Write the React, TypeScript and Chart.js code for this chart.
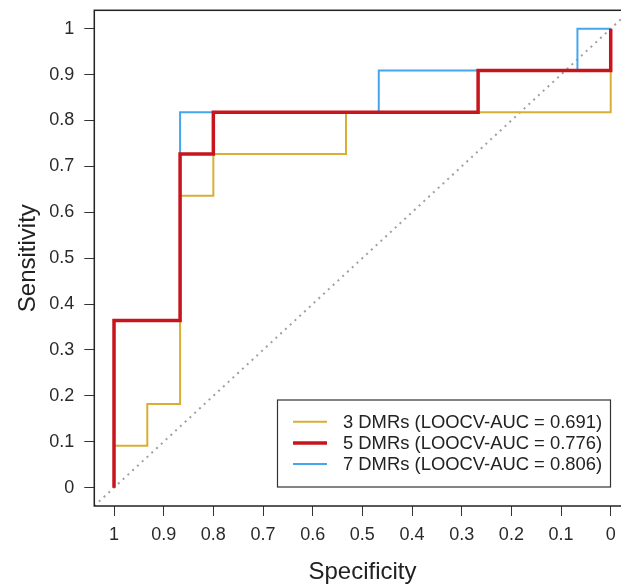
import React, { useEffect, useRef } from "react";
import { Chart, registerables } from "chart.js";

Chart.register(...registerables);

const xTicks = [1, 0.9, 0.8, 0.7, 0.6, 0.5, 0.4, 0.3, 0.2, 0.1, 0];
const yTicks = [0, 0.1, 0.2, 0.3, 0.4, 0.5, 0.6, 0.7, 0.8, 0.9, 1];

const seriesLabels = [
  "3 DMRs (LOOCV-AUC = 0.691)",
  "5 DMRs (LOOCV-AUC = 0.776)",
  "7 DMRs (LOOCV-AUC = 0.806)",
];

const spec3 = [1, 1, 0.933, 0.933, 0.867, 0.867, 0.8, 0.8, 0.533, 0.533, 0, 0];
const sens3 = [0, 0.091, 0.091, 0.182, 0.182, 0.636, 0.636, 0.727, 0.727, 0.818, 0.818, 1];

const spec5 = [1, 1, 0.867, 0.867, 0.8, 0.8, 0.267, 0.267, 0, 0];
const sens5 = [0, 0.364, 0.364, 0.727, 0.727, 0.818, 0.818, 0.909, 0.909, 1];

const spec7 = [1, 1, 0.867, 0.867, 0.467, 0.467, 0.067, 0.067, 0];
const sens7 = [0, 0.364, 0.364, 0.818, 0.818, 0.909, 0.909, 1, 1];

const diagSpec = [1.04, -0.04];
const diagSens = [-0.04, 1.04];

const COLORS = ["#D9AE35", "#C8141C", "#45A6EE"];
const WIDTHS = [2, 3.5, 2];
const FONT = "'Liberation Sans', Arial, Helvetica, sans-serif";

const pts = (xs: number[], ys: number[]) => xs.map((x, i) => ({ x, y: ys[i] }));

const framePlugin = {
  id: "frame",
  afterDatasetsDraw(chart: any) {
    const { ctx, chartArea: a } = chart;
    ctx.save();
    ctx.strokeStyle = "#222";
    ctx.lineWidth = 1.5;
    ctx.strokeRect(a.left, a.top, a.right - a.left + 10, a.bottom - a.top);
    ctx.restore();
  },
  afterDraw(chart: any) {
    const { ctx, chartArea: a } = chart;
    ctx.save();
    // legend box
    const bx = 277.5, by = 400, bw = 333, bh = 87;
    ctx.fillStyle = "#fff";
    ctx.fillRect(bx, by, bw, bh);
    ctx.strokeStyle = "#333";
    ctx.lineWidth = 1.2;
    ctx.strokeRect(bx, by, bw, bh);
    ctx.font = `18.4px ${FONT}`;
    ctx.textBaseline = "middle";
    ctx.textAlign = "left";
    seriesLabels.forEach((lab, i) => {
      const yy = 421.7 + i * 21.2;
      ctx.strokeStyle = COLORS[i];
      ctx.lineWidth = WIDTHS[i];
      ctx.beginPath();
      ctx.moveTo(293, yy);
      ctx.lineTo(327, yy);
      ctx.stroke();
      ctx.fillStyle = "#222";
      ctx.fillText(lab, 343, yy + 1);
    });
    // axis titles
    ctx.font = `24px ${FONT}`;
    ctx.fillStyle = "#222";
    ctx.textAlign = "center";
    ctx.fillText("Specificity", 362.5, 572);
    ctx.translate(28, (a.top + a.bottom) / 2);
    ctx.rotate(-Math.PI / 2);
    ctx.fillText("Sensitivity", 0, 0);
    ctx.restore();
  },
};

export default function App() {
  const ref = useRef<HTMLCanvasElement | null>(null);
  useEffect(() => {
    if (!ref.current) return;
    const chart = new Chart(ref.current, {
      type: "line",
      data: {
        datasets: [
          {
            label: seriesLabels[1],
            data: pts(spec5, sens5),
            borderColor: COLORS[1],
            borderWidth: WIDTHS[1],
            pointRadius: 0,
            tension: 0,
            fill: false,
          },
          {
            label: seriesLabels[2],
            data: pts(spec7, sens7),
            borderColor: COLORS[2],
            borderWidth: WIDTHS[2],
            pointRadius: 0,
            tension: 0,
            fill: false,
          },
          {
            label: seriesLabels[0],
            data: pts(spec3, sens3),
            borderColor: COLORS[0],
            borderWidth: WIDTHS[0],
            pointRadius: 0,
            tension: 0,
            fill: false,
          },
          {
            label: "diag",
            data: pts(diagSpec, diagSens),
            borderColor: "#a0a0a0",
            borderWidth: 2,
            borderDash: [2, 4.5],
            pointRadius: 0,
            fill: false,
          },
        ],
      },
      options: {
        responsive: false,
        animation: false,
        parsing: false as any,
        layout: { padding: { left: 0, top: 10.3, right: 0, bottom: 0 } },
        plugins: { legend: { display: false }, tooltip: { enabled: false } },
        scales: {
          x: {
            type: "linear",
            reverse: true,
            min: -0.0207,
            max: 1.0397,
            afterBuildTicks: (s: any) => {
              s.ticks = xTicks.map((v) => ({ value: v }));
            },
            afterFit: (s: any) => {
              s.height = 79;
              s.paddingLeft = 0;
              s.paddingRight = 0;
            },
            ticks: {
              autoSkip: false,
              maxRotation: 0,
              padding: 8,
              color: "#2a2a2a",
              font: { size: 18, family: FONT },
              callback: (v: any) => String(+Number(v).toFixed(1)),
            },
            grid: {
              drawOnChartArea: false,
              drawTicks: true,
              tickLength: 10,
              tickColor: "#333",
              lineWidth: 1,
            },
            border: { display: false },
          },
          y: {
            type: "linear",
            min: -0.04,
            max: 1.04,
            afterBuildTicks: (s: any) => {
              s.ticks = yTicks.map((v) => ({ value: v }));
            },
            afterFit: (s: any) => {
              s.width = 94.3;
              s.paddingTop = 0;
              s.paddingBottom = 0;
            },
            ticks: {
              autoSkip: false,
              padding: 10,
              color: "#2a2a2a",
              font: { size: 18, family: FONT },
              callback: (v: any) => String(+Number(v).toFixed(1)),
            },
            grid: {
              drawOnChartArea: false,
              drawTicks: true,
              tickLength: 10,
              tickColor: "#333",
              lineWidth: 1,
            },
            border: { display: false },
          },
        },
      },
      plugins: [framePlugin],
    });
    return () => chart.destroy();
  }, []);
  return (
    <div style={{ position: "fixed", left: 0, top: 0, width: 621, height: 585, background: "#fff" }}>
      <canvas ref={ref} width={621} height={585} style={{ display: "block" }} />
    </div>
  );
}
